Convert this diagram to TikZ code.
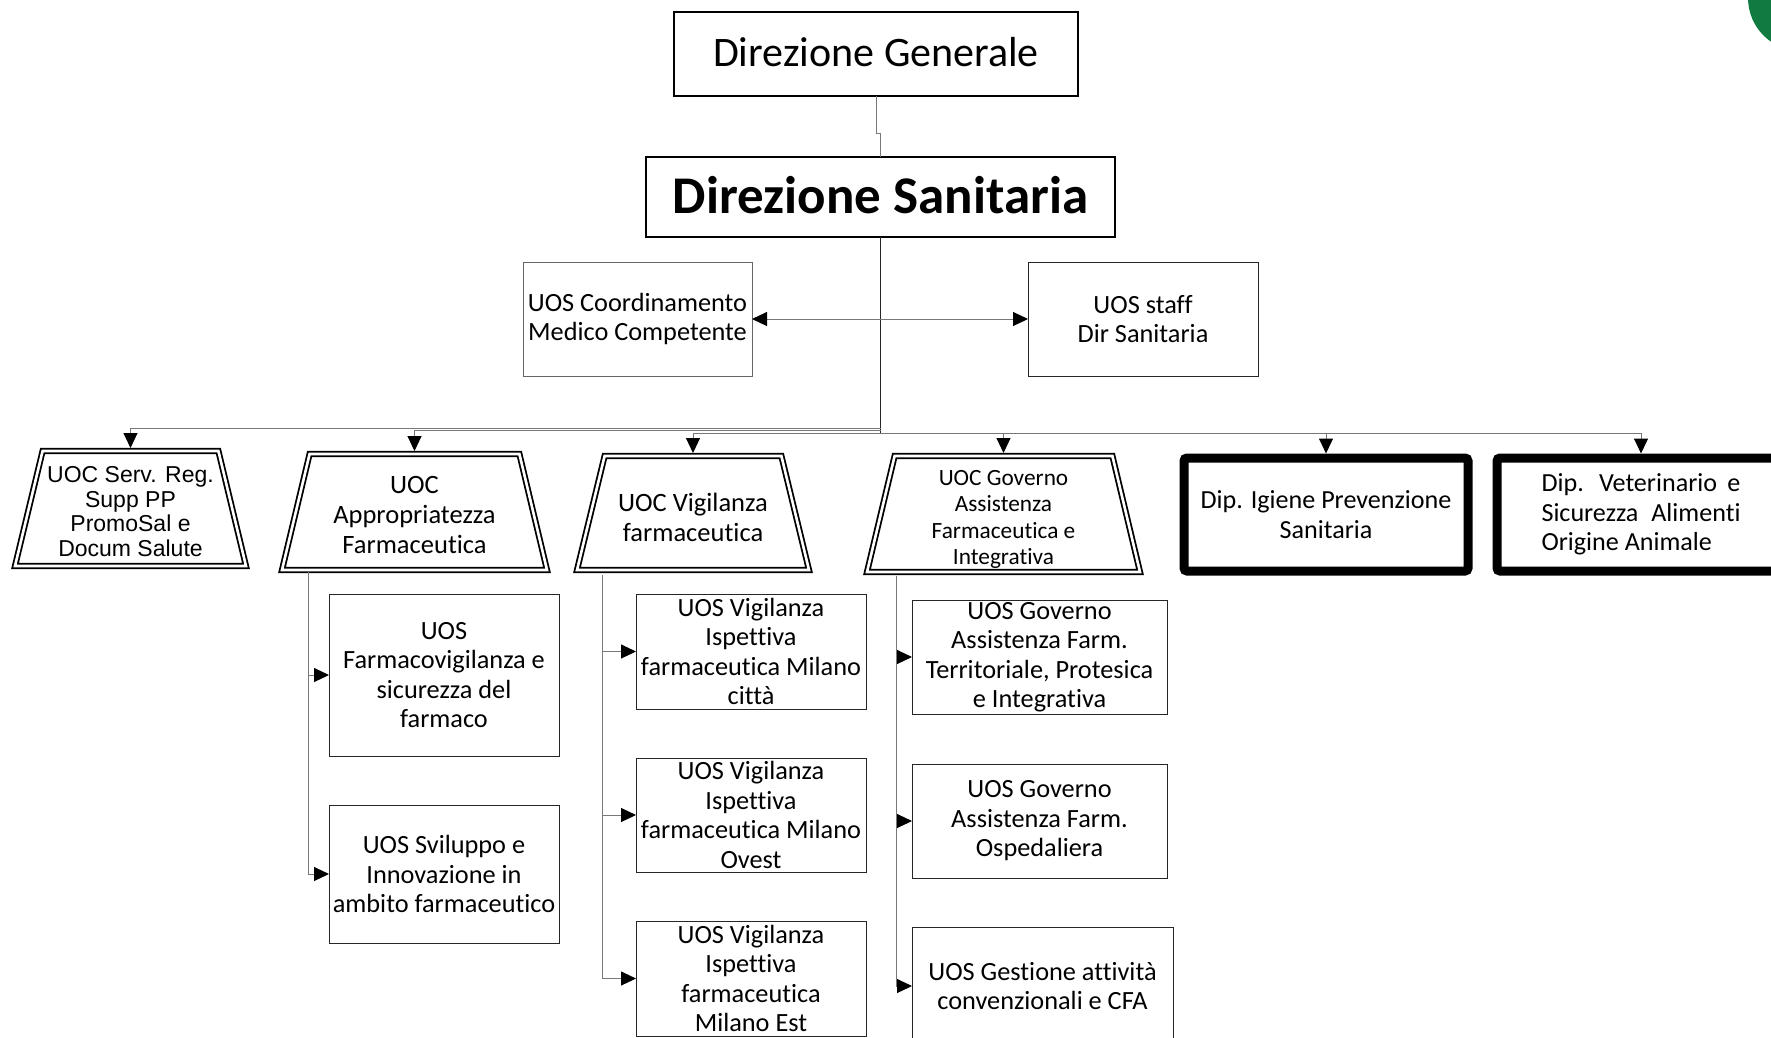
\documentclass[tikz,border=0pt]{standalone}
\usepackage{fontspec}
\setmainfont{Carlito}[Ligatures=NoCommon]
\newfontfamily\arialf{Liberation Sans}
\usetikzlibrary{arrows.meta}
\definecolor{logogreen}{RGB}{16,122,64}
\definecolor{linegray}{RGB}{120,120,120}
\begin{document}
\begin{tikzpicture}[x=1pt,y=-1pt,
  ubox/.style={draw=black!85, line width=1pt, align=center, inner sep=0pt, outer sep=0pt,
    font=\fontsize{26.3}{29.5}\selectfont},
  topbox/.style={draw=black, line width=1.4pt, align=center, inner sep=0pt, outer sep=0pt},
  trapbox/.style={rectangle, inner sep=0pt, outer sep=0pt},
  traptext/.style={align=center, inner sep=0pt, outer sep=0pt,
    font=\fontsize{26.5}{30}\selectfont},
  dline/.style={draw=black, line width=1.8pt, double=white, double distance=2.6pt,
    line join=miter},
  dipbox/.style={draw=black, line width=9pt, rounded corners=3pt, align=center,
    inner sep=0pt, outer sep=0pt, font=\fontsize{26.1}{29.4}\selectfont},
  bus/.style={draw=linegray, line width=1pt},
  trunk/.style={draw=black!85, line width=1.4pt},
  arr/.style={-{Triangle[length=15pt,width=14pt,color=black]}},
]
\useasboundingbox (0,0) rectangle (1771,1037);
\clip (0,0) rectangle (1771,1037);
\fill[white] (0,0) rectangle (1771,1037);
\fill[logogreen] (1801,-2) circle (53);

% top
\node[topbox, minimum width=404pt, minimum height=84pt, font=\fontsize{42}{48}\selectfont]
  (dg) at (876,54) {\raisebox{3.5pt}{Direzione Generale}};
\node[topbox, line width=1.8pt, minimum width=469pt, minimum height=80pt,
  font=\fontsize{53}{60}\selectfont\bfseries] (ds) at (880.5,197) {\raisebox{3.5pt}{Direzione Sanitaria}};

\node[ubox, draw=black!60, minimum width=229pt, minimum height=114pt] (coord) at (637.5,319)
  {UOS Coordinamento\\Medico Competente};
\node[ubox, minimum width=230pt, minimum height=114pt] (staff) at (1143,319)
  {UOS staff\\Dir Sanitaria};

% level 3: trapezoids
\node[trapbox, minimum width=231pt, minimum height=115pt] (t1) at (130.5,508.5) {};
\node[trapbox, minimum width=265pt, minimum height=116pt] (t2) at (414.5,512) {};
\node[trapbox, minimum width=232pt, minimum height=114pt] (t3) at (693,513) {};
\node[trapbox, minimum width=273pt, minimum height=116pt] (t4) at (1003.5,514) {};
\foreach \t in {t1,t2,t3,t4}{
  \draw[dline] (\t.south west) -- (\t.south east) -- ([xshift=-27.6pt]\t.north east)
    -- ([xshift=27.6pt]\t.north west) -- cycle;
}
\node[traptext, font=\arialf\fontsize{23}{24.7}\selectfont] (t1l) at ([yshift=-3pt]t1.center)
  {UOC Serv. Reg.\\Supp PP\\PromoSal e\\Docum Salute};
\node[traptext] (t2l) at ([yshift=-3pt]t2.center) {UOC\\Appropriatezza\\Farmaceutica};
\node[traptext] (t3l) at ([yshift=-4.5pt]t3.center) {UOC Vigilanza\\farmaceutica};
\node[traptext, font=\fontsize{23.3}{26.2}\selectfont] (t4l) at ([yshift=-5.5pt]t4.center)
  {UOC Governo\\Assistenza\\Farmaceutica e\\Integrativa};

\node[dipbox, minimum width=284pt, minimum height=113pt] (d1) at (1326,514.5)
  {Dip. Igiene Prevenzione\\Sanitaria};
\node[dipbox, minimum width=288pt, minimum height=113pt, align=left] (d2) at (1641,514.5)
  {\makebox[199pt][s]{Dip.\hspace{3pt} Veterinario\hspace{3pt} e}\\\makebox[199pt][s]{Sicurezza Alimenti}\\Origine Animale};

% level 4
\node[ubox, minimum width=230pt, minimum height=162pt] (a1) at (444,675)
  {UOS\\Farmacovigilanza e\\sicurezza del\\farmaco};
\node[ubox, minimum width=230pt, minimum height=138pt] (a2) at (444,874)
  {UOS Sviluppo e\\Innovazione in\\ambito farmaceutico};

\node[ubox, minimum width=230pt, minimum height=115pt] (b1) at (751,651.5)
  {UOS Vigilanza\\Ispettiva\\farmaceutica Milano\\città};
\node[ubox, minimum width=230pt, minimum height=114pt] (b2) at (751,815)
  {UOS Vigilanza\\Ispettiva\\farmaceutica Milano\\Ovest};
\node[ubox, minimum width=230pt, minimum height=115pt] (b3) at (751,978.5)
  {UOS Vigilanza\\Ispettiva\\farmaceutica\\Milano Est};

\node[ubox, minimum width=255pt, minimum height=114pt] (g1) at (1039.5,657)
  {UOS Governo\\Assistenza Farm.\\Territoriale, Protesica\\e Integrativa};
\node[ubox, minimum width=255pt, minimum height=114pt] (g2) at (1039.5,821)
  {UOS Governo\\Assistenza Farm.\\Ospedaliera};
\node[ubox, minimum width=261pt, minimum height=118pt] (g3) at (1042.5,986)
  {UOS Gestione attività\\convenzionali e CFA};

% connectors
\draw[bus] (dg.south) -- ++(0,37) -| (ds.north);
\coordinate (j1) at (880.5,428);
\coordinate (j2) at (880.5,430.5);
\coordinate (j3) at (880.5,433);
\draw[trunk] (ds.south) -- (j3);
\draw[bus, arr] (j1) -| ([yshift=3pt]t1.north);
\draw[bus, arr] (j2) -| ([yshift=3pt]t2.north);
\draw[bus, arr] (j3) -| ([yshift=3pt]t3.north);
\draw[bus, arr] (j3) -| ([yshift=3pt]t4.north);
\draw[bus, arr] (j3) -| ([yshift=4.5pt]d1.north);
\draw[bus, arr] (j3) -| ([yshift=4.5pt]d2.north);
\draw[bus, {Triangle[length=15pt,width=14pt,color=black]}-{Triangle[length=15pt,width=14pt,color=black]}]
  (coord.east) -- (staff.west);

\coordinate (c1) at (308,572);
\coordinate (c2) at (602,575);
\coordinate (c3) at (896,576);
\draw[bus, arr] (c1) |- (a1.west);
\draw[bus, arr] (c1) |- (a2.west);
\draw[bus, arr] (c2) |- (b1.west);
\draw[bus, arr] (c2) |- (b2.west);
\draw[bus, arr] (c2) |- (b3.west);
\draw[bus, arr] (c3) |- (g1.west);
\draw[bus, arr] (c3) |- (g2.west);
\draw[bus, arr] (c3) |- (g3.west);
\end{tikzpicture}
\end{document}
